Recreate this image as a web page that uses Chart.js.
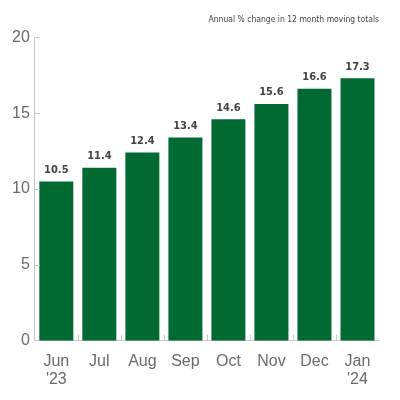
<!DOCTYPE html>
<html>
<head>
<meta charset="utf-8">
<script src="https://cdn.jsdelivr.net/npm/chart.js@4"></script>
<style>
  html, body { margin: 0; padding: 0; background: #fff; }
  #wrap { width: 400px; height: 400px; }
</style>
</head>
<body>
<div id="wrap"><canvas id="chart"></canvas></div>
<script>
// --- DATA ---
const months = [['Jun', "'23"], 'Jul', 'Aug', 'Sep', 'Oct', 'Nov', 'Dec', ['Jan', "'24"]];
const changes = [10.5, 11.4, 12.4, 13.4, 14.6, 15.6, 16.6, 17.3];
const yTicks = [0, 5, 10, 15, 20];
const titleText = 'Annual % change in 12 month moving totals';

const green = '#006a32';
const axisGrey = '#c8c8c8';
const labelFont = "'Liberation Sans Narrow', 'DejaVu Sans Condensed', sans-serif";
const tickFont = "'Liberation Sans', Arial, sans-serif";

// draws the value above each bar
const valueLabels = {
    id: 'valueLabels',
    afterDatasetsDraw(chart) {
        const ctx = chart.ctx;
        const meta = chart.getDatasetMeta(0);
        ctx.save();
        ctx.font = 'bold 11px ' + labelFont;
        ctx.fillStyle = '#444';
        ctx.textAlign = 'center';
        ctx.textBaseline = 'bottom';
        meta.data.forEach((bar, i) => {
            ctx.fillText(changes[i].toFixed(1), bar.x, bar.y - 6);
        });
        ctx.restore();
    }
};

// short tick marks drawn inward from the axes
const innerTicks = {
    id: 'innerTicks',
    afterDraw(chart) {
        const { ctx, scales: { x, y } } = chart;
        ctx.save();
        ctx.strokeStyle = axisGrey;
        ctx.lineWidth = 1;
        ctx.beginPath();
        yTicks.forEach(v => {
            if (v === 0) return;
            const py = Math.round(y.getPixelForValue(v)) + 0.5;
            ctx.moveTo(x.left, py);
            ctx.lineTo(x.left + 5, py);
        });
        const half = (x.getPixelForValue(1) - x.getPixelForValue(0)) / 2;
        for (let i = 1; i < months.length; i++) {
            const px = Math.round(x.getPixelForValue(i) - half) + 0.5;
            ctx.moveTo(px, y.bottom);
            ctx.lineTo(px, y.bottom - 6);
        }
        ctx.stroke();
        ctx.restore();
    }
};

new Chart(document.getElementById('chart'), {
    type: 'bar',
    data: {
        labels: months,
        datasets: [{
            data: changes,
            backgroundColor: green,
            categoryPercentage: 1,
            barPercentage: 0.79
        }]
    },
    options: {
        responsive: true,
        maintainAspectRatio: false,
        animation: false,
        layout: { padding: { left: 7, right: 21, top: 4, bottom: 0 } },
        plugins: {
            legend: { display: false },
            tooltip: { enabled: false },
            title: {
                display: true,
                text: titleText,
                align: 'end',
                color: '#444',
                font: { family: labelFont, size: 8.5, weight: 'normal' },
                padding: { top: 11, bottom: 12 }
            }
        },
        scales: {
            x: {
                grid: { display: false, drawTicks: false },
                border: { color: axisGrey, width: 1 },
                ticks: {
                    color: '#6a6a6a',
                    font: { family: tickFont, size: 16, lineHeight: 1.1 },
                    padding: 12,
                    maxRotation: 0
                }
            },
            y: {
                min: 0,
                max: 20,
                grid: { display: false, drawTicks: false },
                border: { color: axisGrey, width: 1 },
                afterBuildTicks(scale) {
                    scale.ticks = yTicks.map(v => ({ value: v }));
                },
                ticks: {
                    color: '#6a6a6a',
                    font: { family: tickFont, size: 16 },
                    padding: 5
                }
            }
        }
    },
    plugins: [valueLabels, innerTicks]
});
</script>
</body>
</html>
